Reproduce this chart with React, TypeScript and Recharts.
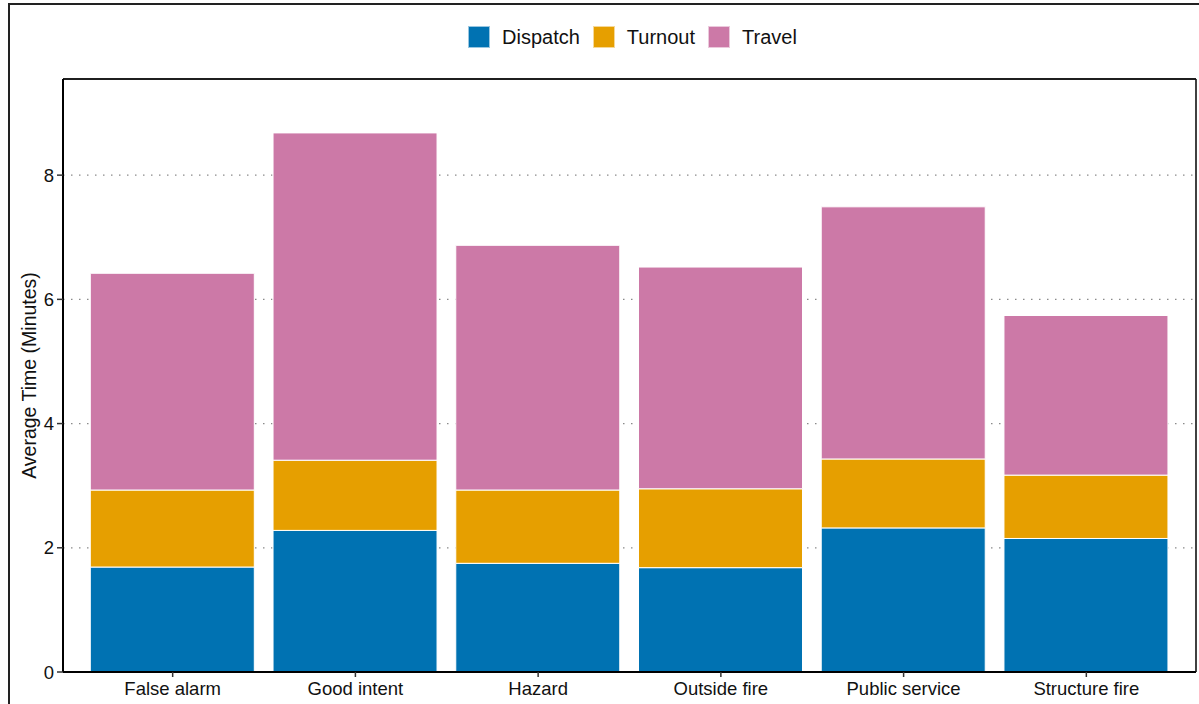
import React from "react";
import { BarChart, Bar, XAxis, YAxis, CartesianGrid, Legend, ReferenceLine } from "recharts";

const categories = ["False alarm", "Good intent", "Hazard", "Outside fire", "Public service", "Structure fire"];
const dispatch = [1.69, 2.28, 1.75, 1.68, 2.32, 2.15];
const turnout = [1.24, 1.13, 1.18, 1.27, 1.11, 1.02];
const travel = [3.49, 5.27, 3.94, 3.57, 4.06, 2.57];
const yTicks = [0, 2, 4, 6, 8];
const seriesNames = ["Dispatch", "Turnout", "Travel"];
const seriesColors = ["#0072B2", "#E69F00", "#CC79A7"];

const data = categories.map((c, i) => ({
  category: c,
  Dispatch: dispatch[i],
  Turnout: turnout[i],
  Travel: travel[i],
}));

const FONT = '"Liberation Sans", Arial, Helvetica, sans-serif';
const Y_MAX = 9.548;

const renderLegend = () => (
  <div style={{ display: "flex", alignItems: "center", fontFamily: FONT, fontSize: 20, color: "#111", whiteSpace: "nowrap" }}>
    {seriesNames.map((n, i) => (
      <div key={n} style={{ display: "flex", alignItems: "center", marginRight: i < seriesNames.length - 1 ? 13 : 0 }}>
        <div style={{ width: 22, height: 22, background: seriesColors[i], boxSizing: "border-box", border: "1px solid rgba(255,255,255,0.6)", marginRight: 12 }} />
        <span style={{ lineHeight: "22px" }}>{n}</span>
      </div>
    ))}
  </div>
);

const YLabel = (props: any) => {
  const vb = props.viewBox || { x: 0, y: 79, width: 63, height: 593 };
  const cx = 28.5;
  const cy = vb.y + vb.height / 2;
  return (
    <text
      x={cx}
      y={cy}
      transform={`rotate(-90, ${cx}, ${cy})`}
      textAnchor="middle"
      dominantBaseline="central"
      fontSize={19.5}
      fontFamily={FONT}
      fill="#111"
    >
      Average Time (Minutes)
    </text>
  );
};

export default function App() {
  return (
    <div style={{ position: "fixed", left: 0, top: 0, width: 1199, height: 704, overflow: "hidden", background: "#fff", fontFamily: FONT }}>
      <div style={{ position: "absolute", left: 8, top: 3, width: 1300, height: 800, border: "2px solid #222", boxSizing: "border-box" }} />
      <div style={{ position: "absolute", left: 0, top: 0 }}>
        <BarChart width={1199} height={704} data={data} margin={{ top: 78, right: 2, bottom: 0, left: 0 }} barSize={164}>
          <CartesianGrid horizontal vertical={false} horizontalValues={yTicks} stroke="#8a8a8a" strokeDasharray="1.5 6.5" strokeWidth={1.2} />
          <XAxis
            dataKey="category"
            height={32}
            padding={{ left: 18.3, right: 18.3 }}
            tickSize={5}
            tickMargin={5}
            interval={0}
            axisLine={{ stroke: "#000", strokeWidth: 2 }}
            tickLine={{ stroke: "#333", strokeWidth: 1.5 }}
            tick={{ fill: "#111", fontSize: 18.5, fontFamily: FONT }}
          />
          <XAxis
            xAxisId="top"
            orientation="top"
            dataKey="category"
            height={1}
            tick={false}
            tickLine={false}
            axisLine={{ stroke: "#111", strokeWidth: 1.6 }}
          />
          <YAxis
            width={63}
            domain={[0, Y_MAX]}
            ticks={yTicks}
            allowDataOverflow
            tickSize={6}
            tickMargin={3}
            axisLine={{ stroke: "#000", strokeWidth: 2 }}
            tickLine={{ stroke: "#333", strokeWidth: 1.5 }}
            tick={{ fill: "#111", fontSize: 18.5, fontFamily: FONT }}
            label={{ content: YLabel } as any}
          />
          <YAxis
            yAxisId="right"
            orientation="right"
            width={1}
            domain={[0, Y_MAX]}
            allowDataOverflow
            tick={false}
            tickLine={false}
            axisLine={{ stroke: "#111", strokeWidth: 1.6 }}
          />
          <ReferenceLine y={Y_MAX} stroke="#111" strokeWidth={1.6} ifOverflow="visible" />
          <Legend
            content={renderLegend}
            layout="horizontal"
            verticalAlign="middle"
            align="center"
            wrapperStyle={{ top: 26, left: 468, width: "auto", height: 22 }}
          />
          <Bar dataKey="Dispatch" stackId="a" fill={seriesColors[0]} stroke="#fff" strokeWidth={1} isAnimationActive={false} />
          <Bar dataKey="Turnout" stackId="a" fill={seriesColors[1]} stroke="#fff" strokeWidth={1} isAnimationActive={false} />
          <Bar dataKey="Travel" stackId="a" fill={seriesColors[2]} stroke="#fff" strokeWidth={1} isAnimationActive={false} />
        </BarChart>
      </div>
    </div>
  );
}
